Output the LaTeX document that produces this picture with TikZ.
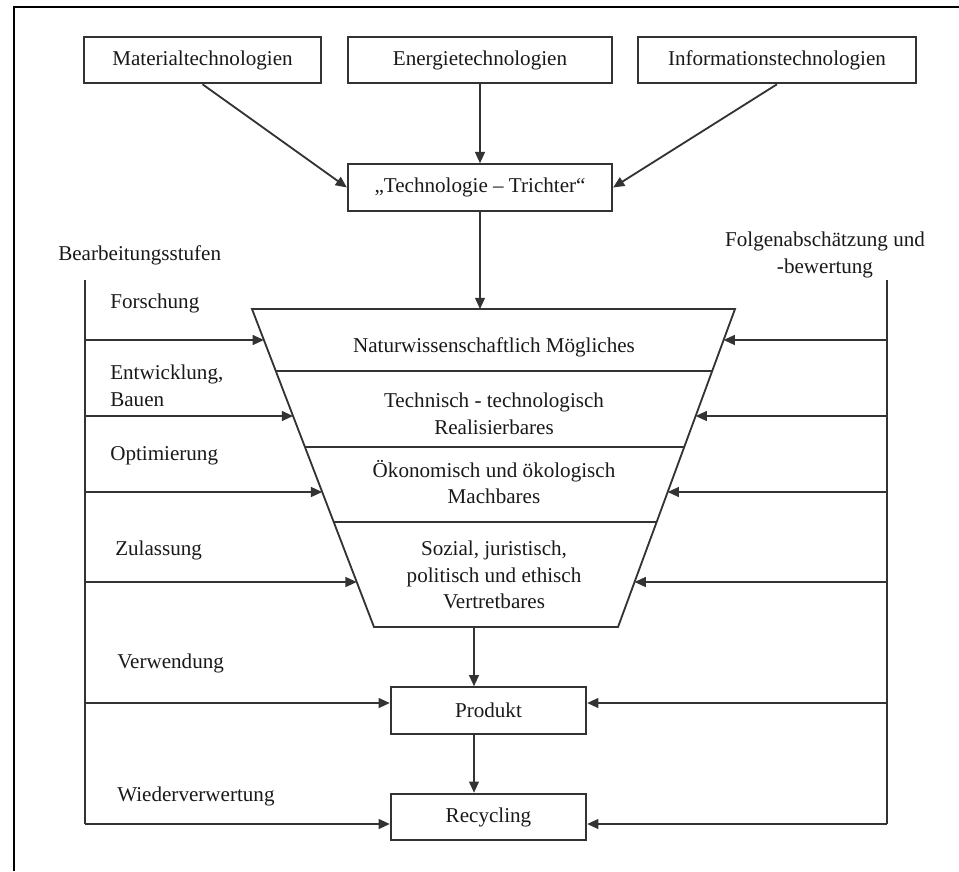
\documentclass[tikz,border=0pt]{standalone}
\usepackage{fontspec}
\setmainfont{Liberation Serif}
\usetikzlibrary{arrows.meta, calc}

\begin{document}
\begin{tikzpicture}[x=0.025cm, y=-0.025cm,
    every node/.style={font=\fontsize{15}{19}\selectfont, text=black!90},
    line/.style={line width=1.3pt, black!80},
    arrow/.style={line, -{Triangle[length=8pt, width=7pt]}},
    box/.style={draw=black!80, line width=1.5pt, minimum height=1.16cm, inner sep=0pt},
    sidetext/.style={anchor=west, align=left, inner sep=0pt}
  ]

  \useasboundingbox (0,0) rectangle (959,871);

  % Rahmen (nur oben und links sichtbar)
  \draw[line width=1.5pt, black] (14,871) -- (14,7) -- (959,7);

  % Technologien oben
  \node[box, minimum width=5.93cm] (mat)  at (202.5,60) {Materialtechnologien};
  \node[box, minimum width=6.6cm]  (ener) at (480,60)   {Energietechnologien};
  \node[box, minimum width=6.95cm] (info) at (777,60)   {Informationstechnologien};
  \node[box, minimum width=6.6cm]  (trich) at (480,187.5) {„Technologie – Trichter“};

  \draw[arrow] (mat.south)  -- (trich.west);
  \draw[arrow] (ener.south) -- (trich.north);
  \draw[arrow] (info.south) -- (trich.east);

  % Trichter
  \coordinate (fTL) at (252,309);
  \coordinate (fTR) at (735,309);
  \coordinate (fBL) at (374,627);
  \coordinate (fBR) at (618,627);
  \draw[line] (fTL) -- (fTR) -- (fBR) -- (fBL) -- cycle;
  \foreach \t in {0.195, 0.434, 0.670}
    \draw[line] ($(fTL)!\t!(fBL)$) -- ($(fTR)!\t!(fBR)$);

  \coordinate (fTop) at (trich.south |- fTL);
  \draw[arrow] (trich.south) -- (fTop);

  \node (natur) at (494,347) {Naturwissenschaftlich Mögliches};
  \node[align=center] (tech)   at (494,414) {Technisch - technologisch\\Realisierbares};
  \node[align=center] (oeko)   at (494,482) {Ökonomisch und ökologisch\\Machbares};
  \node[align=center] (sozial) at (494,575) {Sozial, juristisch,\\politisch und ethisch\\Vertretbares};

  % Produkt und Recycling
  \node[box, minimum width=4.88cm] (prod) at (488.5,710.5) {Produkt};
  \node[box, minimum width=4.88cm] (rec)  at (488.5,817)   {Recycling};

  \coordinate (fBot) at (474,627);
  \draw[arrow] (fBot) -- (fBot |- prod.north);
  \draw[arrow] (fBot |- prod.south) -- (fBot |- rec.north);

  % seitliche Linien
  \coordinate (lTop) at (85,280);
  \coordinate (rTop) at (887,280);
  \coordinate (lBot) at (85,824);
  \coordinate (rBot) at (887,824);
  \coordinate (lP) at (85,703);
  \coordinate (rP) at (887,703);
  \draw[line] (lTop) -- (lBot);
  \draw[line] (rTop) -- (rBot);

  \foreach \y in {340,416,492,582} {
    \draw[arrow] (lTop |- 0,\y) -- ($(fTL)!{(\y-309)/318}!(fBL)$);
    \draw[arrow] (rTop |- 0,\y) -- ($(fTR)!{(\y-309)/318}!(fBR)$);
  }
  \draw[arrow] (lP) -- (lP -| prod.west);
  \draw[arrow] (rP) -- (rP -| prod.east);
  \draw[arrow] (lBot) -- (lBot -| rec.west);
  \draw[arrow] (rBot) -- (rBot -| rec.east);

  % Beschriftungen
  \node[sidetext] (stufen) at (58,255)  {Bearbeitungsstufen};
  \node[sidetext] (forsch) at (110,303) {Forschung};
  \node[sidetext] (entw)   at (110,386) {Entwicklung,\\Bauen};
  \node[sidetext] (optim)  at (110,456) {Optimierung};
  \node[sidetext] (zulass) at (115,550) {Zulassung};
  \node[sidetext] (verw)   at (117,663) {Verwendung};
  \node[sidetext] (wieder) at (117,796) {Wiederverwertung};
  \node[align=center] (folgen) at (825,255) {Folgenabschätzung und\\-bewertung};

\end{tikzpicture}
\end{document}
